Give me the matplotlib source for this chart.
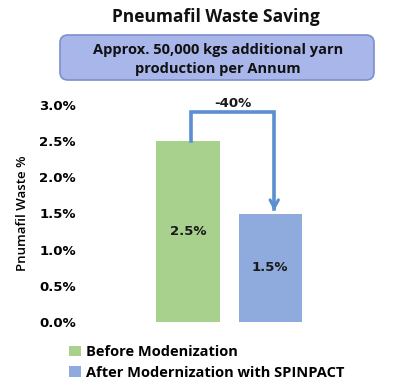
import matplotlib
matplotlib.use("Agg")
import matplotlib.pyplot as plt
from matplotlib.patches import FancyBboxPatch, Patch
from matplotlib.ticker import FuncFormatter

categories = ["Before Modenization", "After Modernization with SPINPACT"]
values = [0.025, 0.015]
bar_labels = ["2.5%", "1.5%"]
change_label = "-40%"
colors = ["#a9d18e", "#8faadc"]
title = "Pneumafil Waste Saving"
note = "Approx. 50,000 kgs additional yarn\nproduction per Annum"
ylabel = "Pnumafil Waste %"
yticks = [0.0, 0.005, 0.01, 0.015, 0.02, 0.025, 0.03]

W, H = 400, 391
fig = plt.figure(figsize=(W / 100, H / 100), dpi=100)
fig.patch.set_facecolor("white")

ax = fig.add_axes([89.6 / W, (H - 322) / H, 279 / W, 217 / H])
xs = list(range(len(values)))
ax.bar(xs, values, width=0.77, color=colors, zorder=2)
ax.set_xlim(-1.2, 2.2)
ax.set_ylim(0, 0.03)
ax.set_yticks(yticks)
ax.yaxis.set_major_formatter(FuncFormatter(lambda v, p: f"{v*100:.1f}%"))
ax.tick_params(axis="y", length=0, pad=10, labelsize=9.5)
for lab in ax.get_yticklabels():
    lab.set_fontweight("bold")
    lab.set_family("DejaVu Sans")
ax.set_xticks([])
for s in ax.spines.values():
    s.set_visible(False)
ax.set_ylabel(ylabel, family="Open Sans", fontsize=9.5, fontweight="semibold")
ax.yaxis.set_label_coords((23 - 89.6) / 279, 0.5)
ax.yaxis.label.set_va("center")

for x, v, t in zip(xs, values, bar_labels):
    ax.text(x, v / 2, t, ha="center", va="center", fontsize=9.5,
            fontweight="bold", family="DejaVu Sans", color="#1a1a1a", zorder=3)

# connector arrow
ytop = 0.029
arrow_col = "#5b8fd0"
x0, x1 = xs[0] + 0.03, xs[1] + 0.05
ax.plot([x0, x0, x1, x1], [values[0], ytop, ytop, values[1] + 0.0006],
        color=arrow_col, lw=2.6, solid_joinstyle="miter", clip_on=False, zorder=4)
ax.annotate("", xy=(x1, values[1]), xytext=(x1, values[1] + 0.0015),
            arrowprops=dict(arrowstyle="->,head_length=0.55,head_width=0.3",
                            color=arrow_col, lw=2.2), annotation_clip=False)
ax.text((x0 + x1) / 2, ytop + 0.0003, change_label, ha="center", va="bottom",
        fontsize=9.5, fontweight="bold", family="DejaVu Sans", color="#1a1a1a")

# title
fig.text(216 / W, 1 - 17 / H, title, ha="center", va="center",
         fontsize=12.5, fontweight="bold", family="Open Sans", color="#111111")

# note box
box = FancyBboxPatch((60 / W, 1 - 80 / H), 314 / W, 45 / H,
                     boxstyle="round,pad=0,rounding_size=0.02",
                     transform=fig.transFigure, facecolor="#a8b6ea",
                     edgecolor="#7d8fcc", lw=1.2)
fig.patches.append(box)
fig.text(218 / W, 1 - 59.5 / H, note, ha="center", va="center",
         fontsize=10.5, fontweight="bold", family="Open Sans",
         color="#111111", linespacing=1.45)

# legend
handles = [Patch(facecolor=c, edgecolor="none") for c in colors]
leg = fig.legend(handles, categories, loc="upper left",
                 bbox_to_anchor=(69 / W, 1 - 345 / H), frameon=False,
                 handlelength=0.8, handleheight=0.75, handletextpad=0.35,
                 labelspacing=0.45, borderaxespad=0, borderpad=0,
                 prop={"family": "Open Sans", "weight": "bold", "size": 10.5})

fig.savefig("out.png", dpi=100)
